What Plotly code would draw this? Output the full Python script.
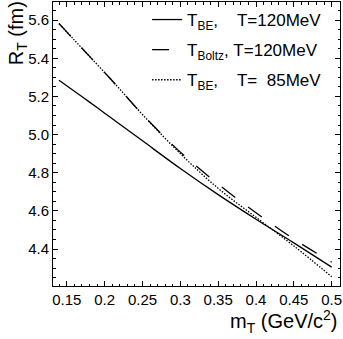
import plotly.graph_objects as go

# transverse mass (GeV/c^2)
mt = [0.1396, 0.16, 0.18, 0.20, 0.22, 0.25, 0.30, 0.35, 0.40, 0.45, 0.50]
# R_T (fm) for the three cases
r_be_120 = [5.285, 5.227, 5.170, 5.112, 5.054, 4.967, 4.822, 4.685, 4.556, 4.432, 4.305]
r_boltz_120 = [5.582, 5.495, 5.410, 5.325, 5.238, 5.105, 4.908, 4.740, 4.590, 4.452, 4.331]
r_be_85 = [5.582, 5.495, 5.410, 5.325, 5.238, 5.105, 4.900, 4.718, 4.566, 4.416, 4.255]

names = ["T<sub>BE</sub>,\u00a0\u00a0\u00a0\u00a0T=120MeV",
         "T<sub>Boltz</sub>,\u00a0T=120MeV",
         "T<sub>BE</sub>,\u00a0\u00a0\u00a0\u00a0T=\u00a0\u00a085MeV"]

xticks = [0.15, 0.2, 0.25, 0.3, 0.35, 0.4, 0.45, 0.5]
xticklabels = ["0.15", "0.2", "0.25", "0.3", "0.35", "0.4", "0.45", "0.5"]
yticks = [4.4, 4.6, 4.8, 5.0, 5.2, 5.4, 5.6]
yticklabels = ["4.4", "4.6", "4.8", "5.0", "5.2", "5.4", "5.6"]

fig = go.Figure()
styles = [("solid", r_be_120), ("17px,16px", r_boltz_120), ("1.5px,1.5px", r_be_85)]
for i, (dash, ys) in enumerate(styles):
    fig.add_trace(go.Scatter(x=mt, y=ys, mode="lines", name=names[i],
                             legendgroup=str(i),
                             line=dict(color="black", width=1.3, dash=dash,
                                       shape="spline")))

font = "Liberation Sans, Arial, sans-serif"
axis = dict(showline=True, mirror="allticks", linecolor="black", linewidth=1,
            ticks="inside", ticklen=5, tickcolor="black", showgrid=False,
            zeroline=False, tickfont=dict(family=font, size=15, color="black"))

fig.update_xaxes(range=[0.1317, 0.511], tickvals=xticks, ticktext=xticklabels,
                 minor=dict(dtick=0.01, tick0=0.0, ticks="inside", ticklen=2.5,
                            tickcolor="black", showgrid=False),
                 **axis)
fig.update_yaxes(range=[4.206, 5.695], tickvals=yticks, ticktext=yticklabels,
                 minor=dict(dtick=0.05, tick0=4.0, ticks="inside", ticklen=2.5,
                            tickcolor="black", showgrid=False),
                 **axis)

fig.add_annotation(text="R<sub>T</sub> (fm)", xref="paper", yref="paper",
                   x=-0.125, y=1.01, xanchor="center", yanchor="top",
                   textangle=-90, showarrow=False,
                   font=dict(family=font, size=20, color="black"))
fig.add_annotation(text="m<sub>T</sub> (GeV/c<sup>2</sup>)", xref="paper", yref="paper",
                   x=1.0, y=-0.125, xanchor="right", yanchor="middle",
                   showarrow=False, font=dict(family=font, size=20, color="black"))

fig.update_layout(
    width=343, height=339,
    margin=dict(l=53, r=3, t=2, b=53),
    plot_bgcolor="white", paper_bgcolor="white",
    showlegend=True,
    legend=dict(x=0.955, xanchor="right", y=1.0, yanchor="top",
                bgcolor="rgba(0,0,0,0)", tracegroupgap=5,
                font=dict(family=font, size=17, color="black")),
)

fig.write_html("out.html", config={"displayModeBar": False},
               post_script="document.body.style.margin='0';")
